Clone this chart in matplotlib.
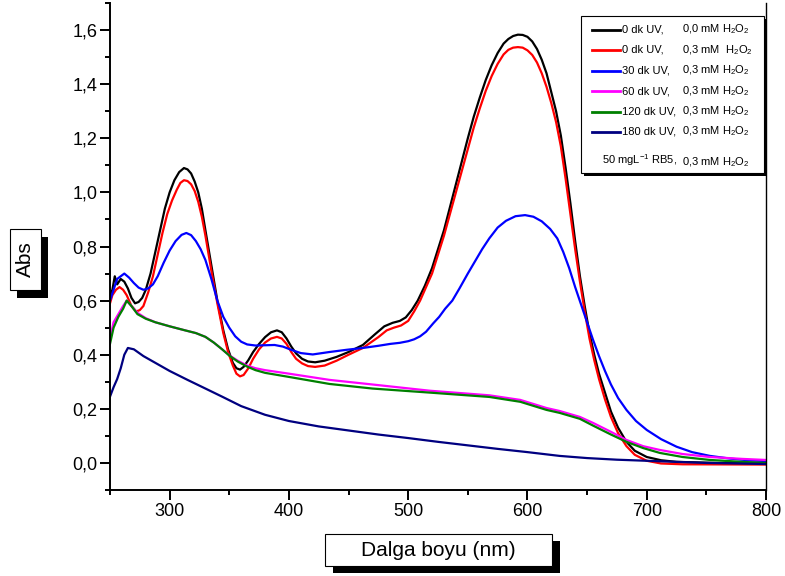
import numpy as np
import matplotlib
matplotlib.use("Agg")
import matplotlib.pyplot as plt
from matplotlib.patches import Rectangle
from matplotlib.lines import Line2D
from matplotlib.ticker import MultipleLocator, FuncFormatter

plt.rcParams['font.family'] = ['Liberation Sans', 'DejaVu Sans']
plt.rcParams['mathtext.fontset'] = 'custom'
plt.rcParams['mathtext.rm'] = 'Liberation Sans'
plt.rcParams['mathtext.it'] = 'Liberation Sans'

# UV-Vis spectra, wavelength (nm) / absorbance
wl_0a = [250, 252, 254, 256, 259, 262, 265, 268, 271, 274, 277, 280, 284, 288, 292, 296, 300, 304,
         308, 312, 315, 318, 321, 324, 327, 330, 335, 340, 345, 349, 353, 356, 359, 362, 366, 370,
         375, 380, 385, 390, 394, 398, 402, 406, 411, 416, 422, 430, 440, 450, 462, 472, 480, 487,
         493, 498, 503, 508, 514, 520, 525, 530, 535, 540, 545, 550, 555, 560, 565, 570, 575, 580,
         584, 588, 592, 596, 600, 604, 608, 612, 616, 620, 624, 628, 632, 636, 640, 644, 648, 652,
         656, 660, 665, 670, 676, 683, 690, 700, 712, 725, 760, 800]
abs_0a = [0.62, 0.64, 0.69, 0.66, 0.68, 0.67, 0.645, 0.61, 0.59, 0.595, 0.61, 0.64, 0.70, 0.78, 0.86, 0.94, 1.00, 1.045,
          1.075, 1.09, 1.085, 1.07, 1.04, 1.00, 0.94, 0.86, 0.73, 0.60, 0.49, 0.42, 0.37, 0.35, 0.345, 0.355, 0.38, 0.41,
          0.44, 0.465, 0.483, 0.49, 0.483, 0.46, 0.43, 0.405, 0.385, 0.375, 0.372, 0.378, 0.392, 0.41, 0.436, 0.475, 0.505, 0.518,
          0.525, 0.538, 0.565, 0.60, 0.655, 0.72, 0.79, 0.86, 0.945, 1.03, 1.115, 1.20, 1.28, 1.35, 1.415, 1.47, 1.515, 1.55,
          1.567, 1.578, 1.583, 1.582, 1.575, 1.558, 1.53, 1.49, 1.44, 1.37, 1.30, 1.21, 1.09, 0.96, 0.82, 0.69, 0.58, 0.48,
          0.40, 0.33, 0.26, 0.19, 0.13, 0.078, 0.045, 0.022, 0.01, 0.004, 0.0, 0.0]

wl_0b = [250, 252, 255, 258, 261, 264, 268, 272, 275, 278, 282, 286, 290, 294, 298, 302, 306, 309,
         312, 315, 318, 321, 324, 327, 330, 335, 340, 345, 349, 353, 356, 359, 362, 366, 370, 375,
         380, 385, 390, 394, 398, 402, 406, 411, 416, 422, 430, 440, 450, 462, 475, 482, 488, 494,
         500, 505, 510, 515, 520, 525, 530, 535, 540, 545, 550, 555, 560, 565, 570, 575, 580, 584,
         588, 592, 596, 600, 604, 608, 612, 616, 620, 624, 628, 632, 636, 640, 644, 648, 652, 656,
         660, 665, 670, 676, 683, 690, 700, 712, 730, 800]
abs_0b = [0.59, 0.62, 0.64, 0.65, 0.64, 0.62, 0.58, 0.56, 0.565, 0.58, 0.63, 0.69, 0.77, 0.85, 0.92, 0.97, 1.01, 1.035,
          1.045, 1.042, 1.03, 1.005, 0.965, 0.91, 0.84, 0.71, 0.59, 0.48, 0.41, 0.36, 0.33, 0.32, 0.325, 0.35, 0.385, 0.42,
          0.445, 0.46, 0.466, 0.46, 0.44, 0.41, 0.385, 0.368, 0.358, 0.355, 0.36, 0.378, 0.40, 0.425, 0.465, 0.49, 0.50, 0.508,
          0.525, 0.56, 0.60, 0.65, 0.70, 0.77, 0.84, 0.92, 1.00, 1.08, 1.16, 1.24, 1.31, 1.375, 1.43, 1.475, 1.51, 1.527,
          1.535, 1.537, 1.535, 1.525, 1.508, 1.48, 1.44, 1.39, 1.33, 1.26, 1.17, 1.05, 0.92, 0.79, 0.67, 0.56, 0.46, 0.38,
          0.31, 0.235, 0.17, 0.11, 0.062, 0.03, 0.008, -0.002, -0.005, -0.006]

wl_30 = [250, 253, 256, 259, 262, 266, 270, 274, 278, 282, 286, 290, 295, 300, 305, 310, 314, 318,
         322, 326, 330, 335, 340, 345, 350, 355, 360, 365, 372, 380, 388, 395, 402, 410, 420, 434,
         448, 462, 475, 485, 493, 500, 505, 510, 515, 521, 526, 531, 537, 543, 550, 556, 562, 568,
         575, 582, 590, 598, 605, 612, 619, 625, 630, 635, 640, 645, 650, 655, 660, 665, 670, 676,
         683, 691, 700, 712, 725, 738, 753, 770, 785, 800]
abs_30 = [0.60, 0.64, 0.68, 0.69, 0.70, 0.685, 0.665, 0.648, 0.64, 0.645, 0.66, 0.69, 0.74, 0.785, 0.82, 0.843, 0.85, 0.842,
          0.82, 0.79, 0.75, 0.68, 0.60, 0.54, 0.50, 0.468, 0.448, 0.438, 0.434, 0.435, 0.436, 0.43, 0.418, 0.406, 0.401, 0.41,
          0.418, 0.425, 0.433, 0.44, 0.444, 0.45, 0.457, 0.468, 0.485, 0.516, 0.54, 0.57, 0.60, 0.645, 0.70, 0.745, 0.79, 0.83,
          0.87, 0.895, 0.912, 0.916, 0.91, 0.893, 0.865, 0.83, 0.78, 0.72, 0.65, 0.585, 0.52, 0.455, 0.395, 0.34, 0.29, 0.24,
          0.196, 0.155, 0.122, 0.088, 0.06, 0.04, 0.026, 0.016, 0.01, 0.007]

wl_60 = [250, 253, 257, 261, 264, 268, 273, 280, 288, 300, 313, 322, 330, 337, 344, 350, 357, 365,
         372, 380, 400, 434, 470, 518, 568, 594, 616, 627, 644, 655, 670, 683, 697, 711, 730, 753,
         780, 800]
abs_60 = [0.46, 0.52, 0.55, 0.58, 0.60, 0.58, 0.555, 0.535, 0.52, 0.505, 0.49, 0.48, 0.466, 0.445, 0.42, 0.398, 0.378, 0.36,
          0.35, 0.343, 0.33, 0.307, 0.29, 0.267, 0.25, 0.233, 0.203, 0.192, 0.17, 0.148, 0.115, 0.085, 0.062, 0.048, 0.033, 0.022,
          0.015, 0.011]

wl_120 = wl_60
abs_120 = [0.44, 0.50, 0.54, 0.57, 0.60, 0.58, 0.55, 0.533, 0.52, 0.505, 0.49, 0.48, 0.466, 0.445, 0.42, 0.397, 0.375, 0.356,
           0.343, 0.333, 0.318, 0.292, 0.275, 0.26, 0.244, 0.226, 0.196, 0.185, 0.163, 0.138, 0.105, 0.078, 0.055, 0.037, 0.022, 0.011,
           0.004, 0.0]

wl_180 = [250, 253, 256, 259, 262, 265, 270, 278, 288, 300, 315, 330, 344, 360, 380, 400, 425, 450,
          475, 500, 525, 550, 575, 600, 627, 650, 675, 700, 750, 800]
abs_180 = [0.245, 0.28, 0.31, 0.35, 0.40, 0.425, 0.42, 0.395, 0.37, 0.34, 0.307, 0.275, 0.245, 0.21, 0.178, 0.155, 0.135, 0.12,
           0.105, 0.092, 0.078, 0.065, 0.052, 0.04, 0.026, 0.018, 0.012, 0.008, 0.0, -0.004]

series = [
    (wl_0a, abs_0a, 'black', '0 dk UV,', '0,0 mM H$_2$O$_2$'),
    (wl_0b, abs_0b, '#ff0000', '0 dk UV,', '0,3 mM  H$_2$O$_2$'),
    (wl_30, abs_30, '#0000ff', '30 dk UV,', '0,3 mM H$_2$O$_2$'),
    (wl_60, abs_60, '#ff00ff', '60 dk UV,', '0,3 mM H$_2$O$_2$'),
    (wl_120, abs_120, '#008000', '120 dk UV,', '0,3 mM H$_2$O$_2$'),
    (wl_180, abs_180, '#000080', '180 dk UV,', '0,3 mM H$_2$O$_2$'),
]

W, H = 785, 576
fig = plt.figure(figsize=(W / 100, H / 100), dpi=100)
ax = fig.add_axes([110 / W, 1 - 490 / H, (766 - 110) / W, (490 - 3) / H])

for x, y, c, lab1, lab2 in series:
    ax.plot(x, y, color=c, lw=1.6, solid_joinstyle='round')

ax.set_xlim(250, 800)
ax.set_ylim(-0.1, 1.7)
ax.set_xticks([300, 400, 500, 600, 700, 800])
ax.set_yticks([0, 0.2, 0.4, 0.6, 0.8, 1.0, 1.2, 1.4, 1.6])
ax.xaxis.set_minor_locator(MultipleLocator(50))
ax.yaxis.set_minor_locator(MultipleLocator(0.1))
ax.yaxis.set_major_formatter(FuncFormatter(lambda v, p: f"{v:.1f}".replace('.', ',').replace('-0,0', '0,0')))
ax.tick_params(which='major', direction='out', length=7, width=1.4, labelsize=13, pad=2)
ax.tick_params(which='minor', direction='out', length=3.6, width=1.4)
ax.tick_params(axis='x', which='both', top=False)
ax.tick_params(axis='y', which='both', right=False)
for s in ['left', 'bottom']:
    ax.spines[s].set_linewidth(1.4)
ax.spines['top'].set_visible(False)
ax.spines['right'].set_linewidth(1.0)


def fx(px):
    return px / W


def fy(py):
    return 1 - py / H


def shadow_box(x0, y0, x1, y1, off):
    fig.patches.append(Rectangle((fx(x0 + off[0]), fy(y1 + off[1])), fx(x1 - x0), (y1 - y0) / H,
                                 transform=fig.transFigure, facecolor='black', edgecolor='black', lw=0, zorder=5))
    fig.patches.append(Rectangle((fx(x0), fy(y1)), fx(x1 - x0), (y1 - y0) / H,
                                 transform=fig.transFigure, facecolor='white', edgecolor='black', lw=0.8, zorder=6))


# axis titles in shadowed boxes
shadow_box(10, 229, 41, 290, (7, 8))
fig.text(fx(25.5), fy(259.5), 'Abs', rotation=90, ha='center', va='center', fontsize=15, zorder=7)
shadow_box(325, 534, 552, 566, (8, 7))
fig.text(fx(438.5), fy(550), 'Dalga boyu (nm)', ha='center', va='center', fontsize=15, zorder=7)

# legend
shadow_box(581, 16, 764, 173, (3, 3))
row_y = [29.5, 50, 70.5, 91, 111.5, 131.5]
for (x, y, c, lab1, lab2), ry in zip(series, row_y):
    fig.lines.append(Line2D([fx(592), fx(620)], [fy(ry), fy(ry)], color=c, lw=2,
                            transform=fig.transFigure, zorder=8))
    fig.text(fx(622), fy(ry), lab1, ha='left', va='center', fontsize=8, zorder=8)
    fig.text(fx(682), fy(ry), lab2, ha='left', va='center', fontsize=8, zorder=8)
fig.text(fx(602), fy(160), '50 mgL$^{-1}$ RB5,', ha='left', va='center', fontsize=8, zorder=8)
fig.text(fx(682), fy(162), '0,3 mM H$_2$O$_2$', ha='left', va='center', fontsize=8, zorder=8)

fig.savefig('out.png', dpi=100)
